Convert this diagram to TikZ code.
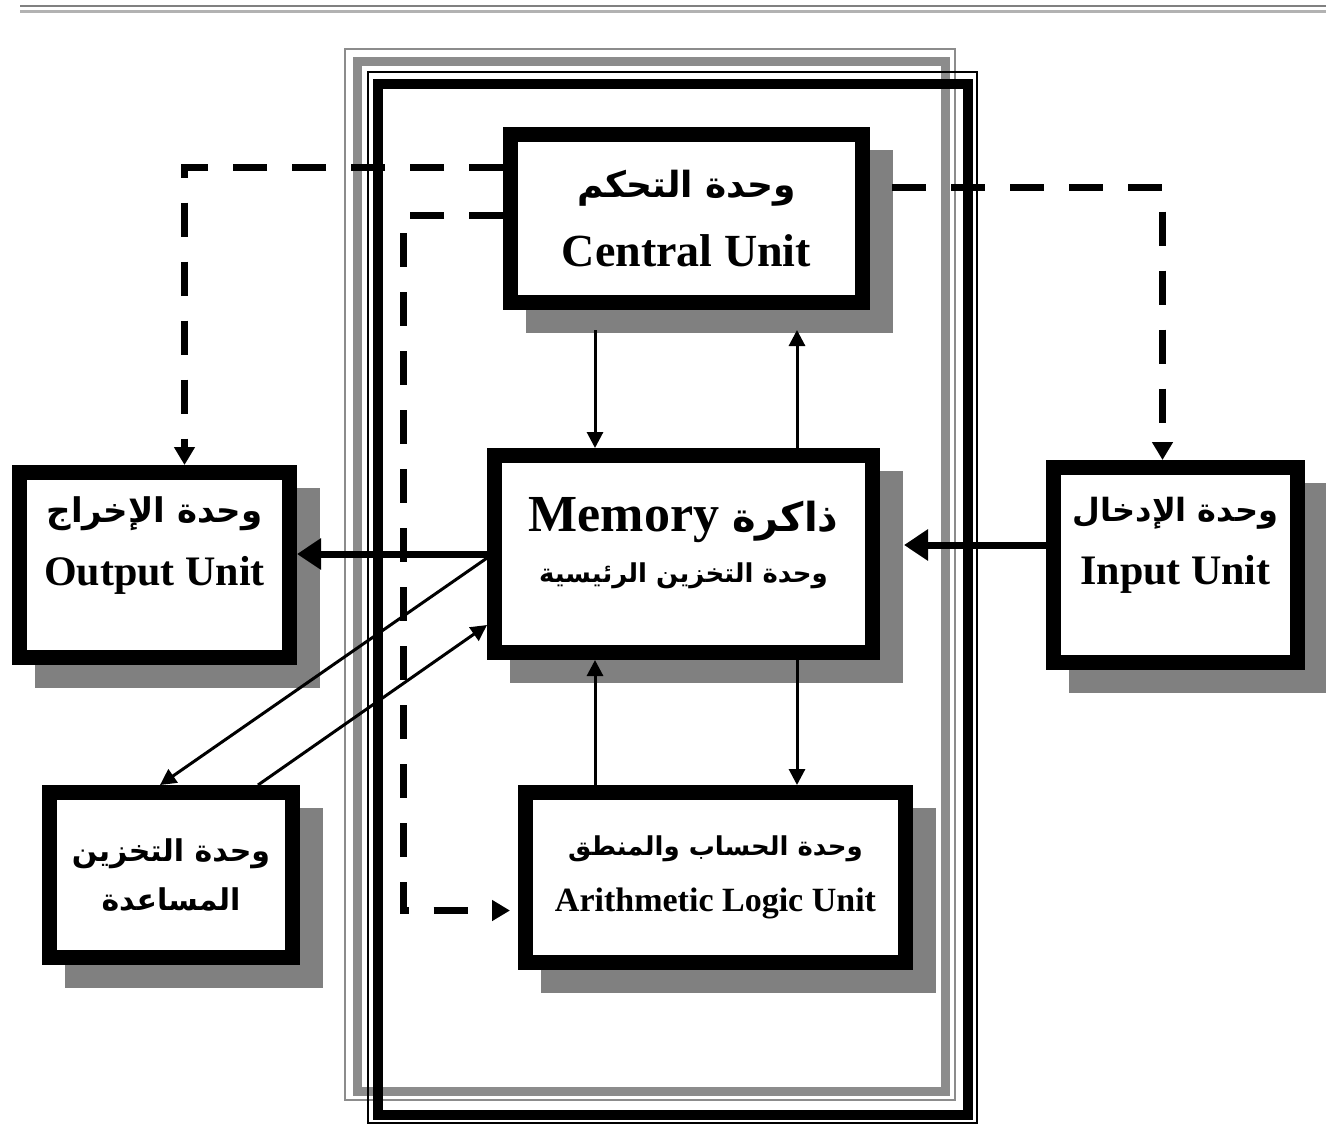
\documentclass[tikz,border=0pt]{standalone}
\usepackage{fontspec}
\setmainfont{Liberation Serif}
\newfontfamily\arabicfont[Script=Arabic]{DejaVu Sans}
\TeXXeTstate=1
\usetikzlibrary{arrows.meta,positioning,calc,backgrounds}
\definecolor{ShadowGrey}{HTML}{808080}
\definecolor{FrameGrey}{HTML}{8C8C8C}
\newcommand{\artxt}[1]{{\arabicfont\beginR #1\endR}}
\newcommand{\fsz}[1]{\fontsize{#1}{1.2\dimexpr#1pt\relax}\selectfont}

\begin{document}
\begin{tikzpicture}[x=0.5pt,y=-0.5pt,
box/.style={draw=black,line width=7.5pt,fill=white,align=center,font=\bfseries,inner sep=0pt},
arr/.style={-{Triangle[length=8pt,width=8pt]},line width=1.5pt},
fatarr/.style={-{Triangle[length=12pt,width=15pt]},line width=3.5pt},
dasharr/.style={-{Triangle[length=9pt,width=10pt]},line width=3.5pt,dash pattern=on 17pt off 12.5pt}
]
\useasboundingbox (0,0) rectangle (1326,1124);
\draw[gray,line width=1.25pt] (20,6) -- (1326,6);
\draw[gray!60,line width=1.5pt] (20,11.5) -- (1326,11.5);
\draw[FrameGrey,line width=1pt] (345,49) rectangle (955,1100);
\draw[FrameGrey,line width=4.5pt] (357,61) rectangle (945.5,1091);
\draw[line width=1pt] (368,72) rectangle (977,1123);
\draw[line width=5pt] (378,83.5) rectangle (968,1115);

\node[box,minimum width=176pt,minimum height=84pt] (cu) at (686.5,218.5)
  {\fsz{18}\artxt{وحدة التحكم}\\[13pt]\fsz{23}Central Unit};
\node[box,minimum width=189pt,minimum height=98.5pt] (mem) at (683.5,554)
  {\fsz{26}Memory \artxt{\fsz{20}ذاكرة}\\[9pt]\fsz{13}\artxt{وحدة التخزين الرئيسية}\\[2pt]};
\node[box,minimum width=135pt,minimum height=92.5pt] (out) at (154.5,565)
  {\fsz{17}\artxt{وحدة الإخراج}\\[12pt]\fsz{21}Output Unit\\[12pt]};
\node[box,minimum width=122pt,minimum height=97.5pt] (inp) at (1175.5,565)
  {\fsz{16}\artxt{وحدة الإدخال}\\[12pt]\fsz{21}Input Unit\\[12pt]};
\node[box,minimum width=121.5pt,minimum height=82.5pt] (aux) at (171,875)
  {\fsz{15}\artxt{وحدة التخزين}\\[8pt]\fsz{15}\artxt{المساعدة}};
\node[box,minimum width=190pt,minimum height=85pt] (alu) at (715.5,877.5)
  {\fsz{13}\artxt{وحدة الحساب والمنطق}\\[12pt]\fsz{17}Arithmetic Logic Unit};

\begin{scope}[on background layer]
\foreach \n in {cu,mem,out,inp,aux,alu}
  \fill[ShadowGrey] ([shift={(23,23)}]\n.north west) rectangle ([shift={(23,23)}]\n.south east);
\end{scope}

\coordinate (lx) at (595,0);
\coordinate (rx) at (797,0);
\coordinate (iy) at (0,545);
\coordinate (lp) at (403,500);

\draw[arr,shorten <=10pt] (lx |- cu.south) -- (lx |- mem.north);
\draw[arr,shorten >=10pt] (rx |- mem.north) -- (rx |- cu.south);
\draw[arr] (lx |- alu.north) -- (lx |- mem.south);
\draw[arr] (rx |- mem.south) -- (rx |- alu.north);
\draw[fatarr] (mem.west) -- (mem.west -| out.east);
\draw[fatarr,shorten >=12pt] (inp.west |- iy) -- (mem.east |- iy);
\draw[arr] ([shift={(0,4)}]mem.west) -- ([shift={(-11,0)}]aux.north);
\draw[arr] ([shift={(87,0)}]aux.north) -- ([shift={(0,71)}]mem.west);

\draw[dasharr] ([shift={(0,40)}]cu.north west) -| ([shift={(30,0)}]out.north);
\draw[dasharr] ([shift={(0,88)}]cu.north west) -| (lp) |- ([shift={(-8,33)}]alu.west);
\draw[dasharr] ([shift={(22,60)}]cu.north east) -| ([shift={(-13,0)}]inp.north);
\end{tikzpicture}
\end{document}
